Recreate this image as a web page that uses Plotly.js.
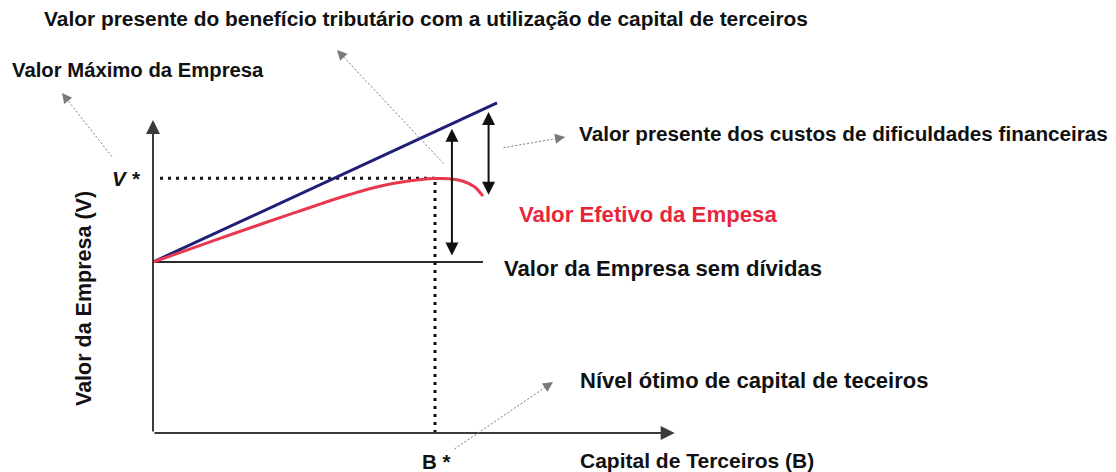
<!DOCTYPE html>
<html>
<head>
<meta charset="utf-8">
<script src="https://cdn.plot.ly/plotly-3.0.1.min.js"></script>
<style>
  html, body { margin: 0; padding: 0; background: #ffffff; }
  #grafico { width: 1116px; height: 472px; }
</style>
</head>
<body>
<div id="grafico"></div>
<script>
// Estrutura de capital: valor da empresa x capital de terceiros (unidades arbitrárias)
const capitalTerceiros = [0, 1, 2, 3, 4, 5, 6, 7, 8, 9, 10, 10.5, 11, 11.4, 11.7];
const valorEfetivo = [10, 10.58, 11.16, 11.74, 12.31, 12.87, 13.43, 13.96, 14.42, 14.72, 14.88, 14.87, 14.72, 14.4, 13.85];

const maximoX = [0, 12.2];
const valorMaximo = [10, 19.3];

const semDividasX = [0, 11.7];
const valorSemDividas = [10, 10];

const otimoB = 10;       // B*
const otimoV = 14.9;     // V*
const beneficioB = 10.6; // onde se mede o benefício tributário
const custosB = 11.9;    // onde se mede o custo de dificuldades financeiras

const eixoXmax = 18.5;
const eixoYmax = 18.3;

const W = 1116, H = 472;
const px = x => x / W;
const py = y => 1 - y / H;

// interpola a reta do valor máximo
const vMax = b => valorMaximo[0] + (valorMaximo[1] - valorMaximo[0]) * (b - maximoX[0]) / (maximoX[1] - maximoX[0]);

const FONTE = { family: 'Liberation Sans, Arial, sans-serif', size: 20.5, color: '#111111', weight: 700 };
const CINZA = '#7a7a7a';
const tam = (s, extra) => Object.assign({}, FONTE, { size: s }, extra || {});

const traces = [
  {
    x: semDividasX, y: valorSemDividas, mode: 'lines',
    line: { color: '#2b2b2b', width: 2 }, hoverinfo: 'skip',
  },
  {
    x: [0.25, otimoB], y: [otimoV, otimoV], mode: 'lines',
    line: { color: '#111111', width: 3, dash: '3px,5px' }, hoverinfo: 'skip',
  },
  {
    x: [otimoB, otimoB], y: [0, otimoV], mode: 'lines',
    line: { color: '#111111', width: 3, dash: '3px,5px' }, hoverinfo: 'skip',
  },
  {
    x: maximoX, y: valorMaximo, mode: 'lines',
    line: { color: '#1f1f78', width: 3 }, hoverinfo: 'skip',
  },
  {
    x: capitalTerceiros, y: valorEfetivo, mode: 'lines',
    line: { color: '#e8384f', width: 3, shape: 'spline', smoothing: 1 }, hoverinfo: 'skip',
  },
];

function seta(x, y, ax, ay, extra) {
  return Object.assign({
    x: x, y: y, ax: ax, ay: ay, xref: 'x', yref: 'y', axref: 'x', ayref: 'y',
    text: '', showarrow: true, arrowhead: 2, arrowsize: 1.3, arrowwidth: 2, arrowcolor: '#111111',
  }, extra || {});
}

function ponteiro(x0, y0, x1, y1) {
  return {
    x: px(x1), y: py(y1), ax: px(x0), ay: py(y0), xref: 'paper', yref: 'paper', axref: 'paper', ayref: 'paper',
    text: '', showarrow: true, arrowhead: 2, arrowsize: 2, arrowwidth: 1, arrowcolor: CINZA,
  };
}

function texto(t, x, y, extra) {
  return Object.assign({
    text: t, x: px(x), y: py(y), xref: 'paper', yref: 'paper',
    xanchor: 'left', yanchor: 'middle', showarrow: false, font: FONTE,
  }, extra || {});
}

const annotations = [
  // eixos
  seta(eixoXmax, 0, 0, 0, { arrowcolor: '#3a3a3a', arrowsize: 1.4 }),
  seta(0, eixoYmax, 0, 0, { arrowcolor: '#3a3a3a', arrowsize: 1.4 }),
  // benefício tributário e custos de dificuldades financeiras
  seta(beneficioB, vMax(beneficioB), beneficioB, valorSemDividas[0], { arrowside: 'end+start', standoff: 5, startstandoff: 5 }),
  seta(custosB, vMax(custosB), custosB, valorEfetivo[valorEfetivo.length - 1], { arrowside: 'end+start', standoff: 5, startstandoff: 0 }),
  // ponteiros cinza
  ponteiro(445, 165, 337, 50),
  ponteiro(113, 158, 62, 93),
  ponteiro(502, 148, 565, 137),
  ponteiro(453, 450, 553, 382),
  // textos
  texto('Valor presente do benefício tributário com a utilização de capital de terceiros', 42, 18, { font: tam(20.9) }),
  texto('Valor Máximo da Empresa', 10, 70, { font: tam(20.3) }),
  texto('Valor presente dos custos de dificuldades financeiras', 577, 133, { font: tam(20.7) }),
  texto('Valor Efetivo da Empesa', 517, 214, { font: tam(22.2, { color: '#e8253a' }) }),
  texto('Valor da Empresa sem dívidas', 502, 268, { font: tam(22.1) }),
  texto('Nível ótimo de capital de teceiros', 578, 380, { font: tam(22) }),
  texto('Capital de Terceiros (B)', 578, 460, { font: tam(21) }),
  texto('B *', 420, 461),
  texto('<i>V *</i>', 110, 178),
  texto('Valor da Empresa (V)', 84, 299, { xanchor: 'center', textangle: -90, font: tam(21.5) }),
];

const layout = {
  width: W, height: H,
  margin: { l: 0, r: 0, t: 0, b: 0 },
  paper_bgcolor: '#ffffff', plot_bgcolor: '#ffffff',
  xaxis: { range: [-153 / 28.2, (W - 153) / 28.2], visible: false, fixedrange: true },
  yaxis: { range: [-(H - 433) / 17.1, 433 / 17.1], visible: false, fixedrange: true },
  showlegend: false,
  annotations: annotations,
};

Plotly.newPlot('grafico', traces, layout, { staticPlot: true }).then(() => {
  // ponteiros tracejados
  document.querySelectorAll('.annotation-arrow-g path').forEach(p => {
    const s = p.style.stroke || '';
    if (s.indexOf('122') !== -1) p.style.strokeDasharray = '2px,2px';
  });
});
</script>
</body>
</html>
